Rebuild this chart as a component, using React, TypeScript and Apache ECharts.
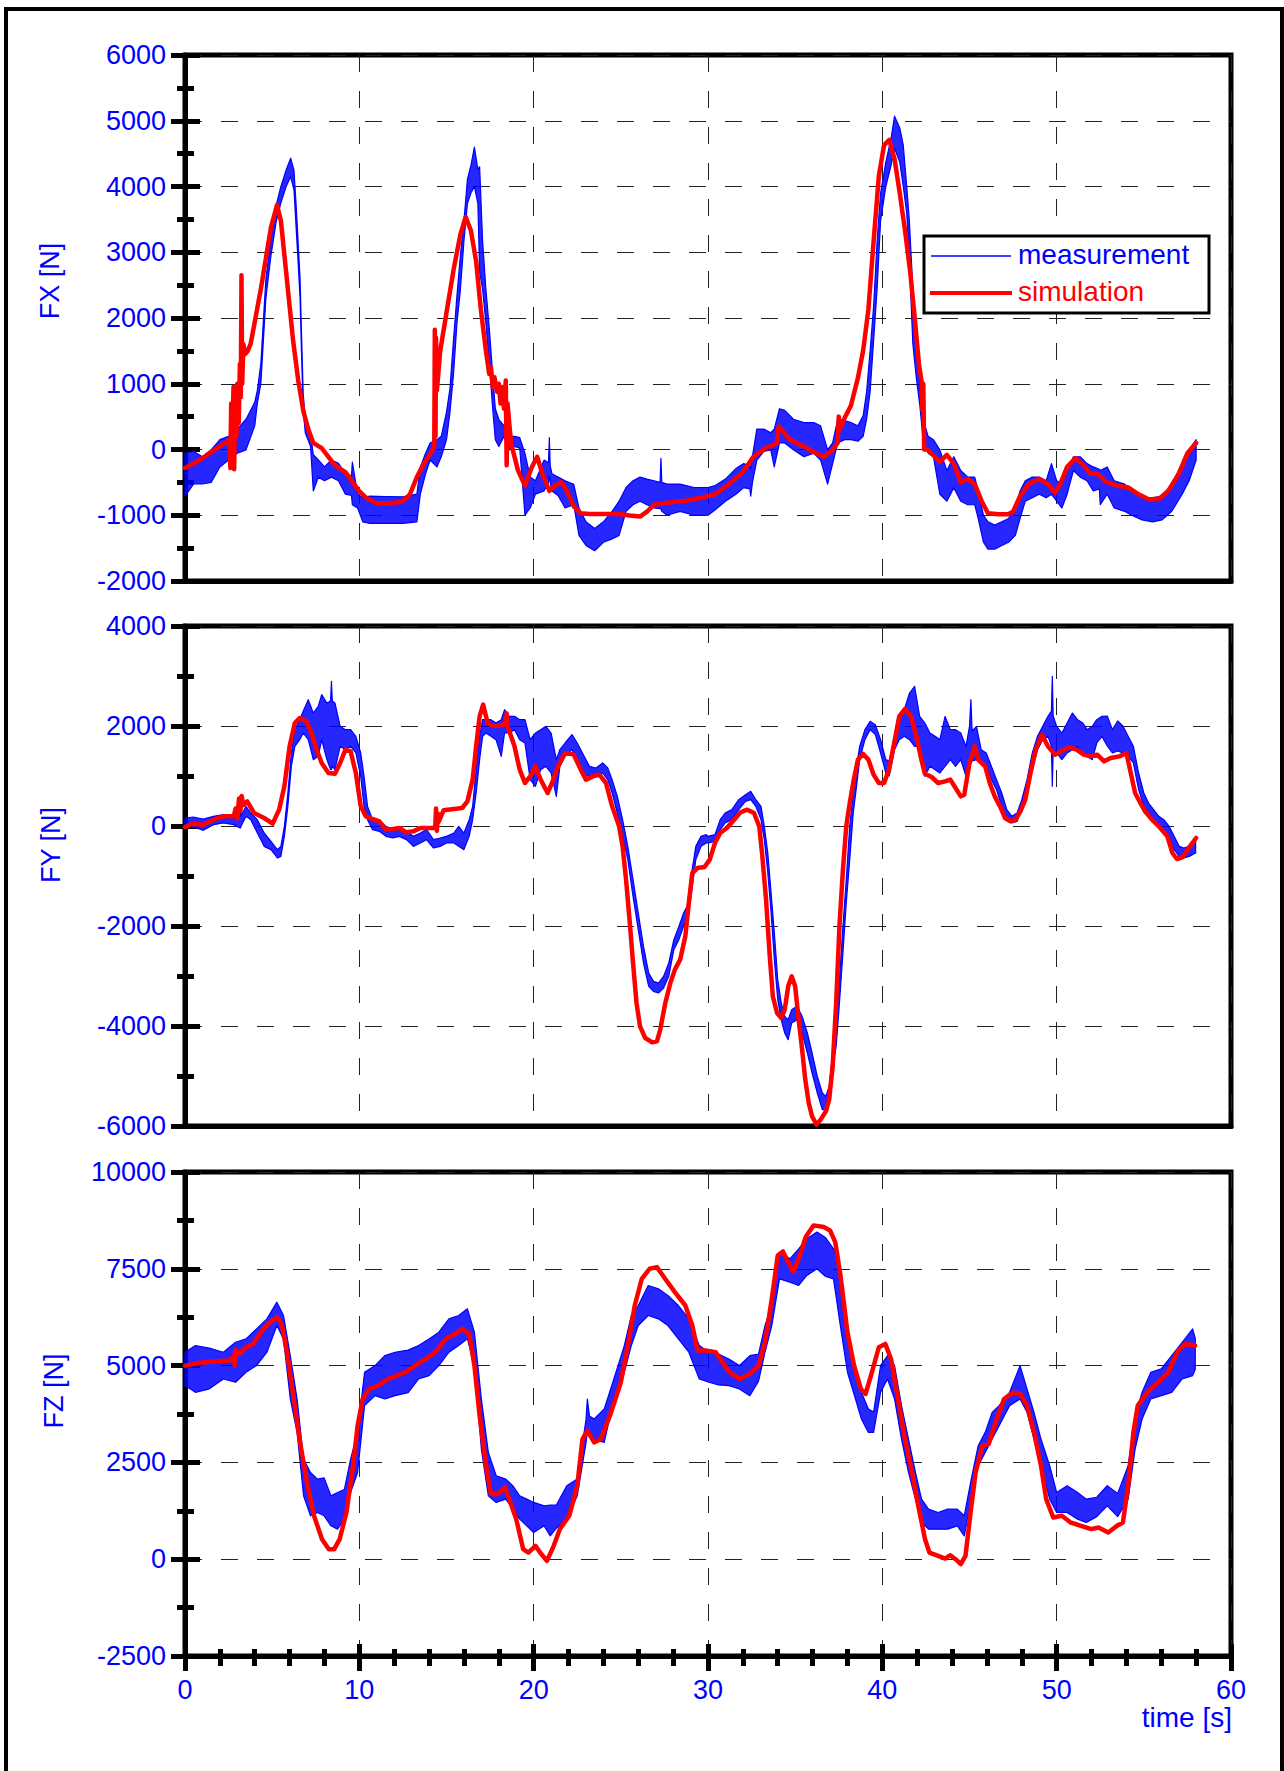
import React, { useEffect, useRef } from "react";
import * as echarts from "echarts";

// ---------- data ----------
const timeRange = [0, 60, 10]; // min, max, major step [s]
const fxAxis = [-2000, 6000, 1000];
const fyAxis = [-6000, 4000, 2000];
const fzAxis = [-2500, 10000, 2500];

// simulation: [t, value]
const fxSim = [[0,-280],[0.85,-160],[1.6,-20],[2.4,120],[2.55,150],[2.6,-280],[2.65,700],[2.72,100],[2.78,950],[2.82,-300],[2.88,900],[2.95,200],[3.0,1000],[3.08,400],[3.15,1300],[3.2,800],[3.24,2650],[3.28,1000],[3.35,1600],[3.45,1450],[3.6,1500],[3.77,1610],[4.35,2440],[4.93,3380],[5.28,3720],[5.5,3480],[5.9,2440],[6.2,1660],[6.5,1040],[6.8,570],[7.07,310],[7.36,100],[7.84,20],[8.6,-240],[9.2,-345],[9.98,-630],[10.4,-735],[10.95,-812],[11.7,-823],[12.5,-786],[12.9,-682],[13.3,-420],[13.7,-214],[14.16,-30],[14.3,60],[14.33,1820],[14.37,200],[14.4,1700],[14.45,900],[14.64,1500],[15.03,2130],[15.42,2755],[15.8,3275],[16.1,3536],[16.4,3330],[16.7,2860],[16.97,2130],[17.26,1505],[17.45,1150],[17.55,1250],[17.65,950],[17.75,1100],[17.9,880],[18.0,1000],[18.1,700],[18.2,950],[18.3,620],[18.4,1050],[18.45,-240],[18.5,700],[18.7,100],[19.1,-318],[19.5,-550],[19.9,-265],[20.2,-110],[20.5,-370],[20.9,-630],[21.2,-550],[21.6,-500],[21.9,-630],[22.3,-865],[22.7,-970],[23.2,-980],[24.9,-980],[25.5,-1005],[26.1,-1020],[26.5,-945],[26.9,-840],[27.6,-812],[28.8,-776],[29.6,-735],[30.4,-680],[31.2,-526],[32.0,-344],[32.6,-110],[33.3,20],[33.96,100],[34.05,350],[34.7,150],[35.5,47],[36.2,-57],[36.66,-110],[37.15,-5],[37.44,100],[37.5,500],[37.55,300],[37.8,460],[38.2,670],[38.6,1090],[38.9,1505],[39.2,2130],[39.5,3170],[39.8,4160],[40.1,4630],[40.4,4710],[40.7,4420],[41.0,3900],[41.3,3330],[41.6,2700],[41.85,2025],[42.1,1300],[42.25,1040],[42.3,600],[42.35,1000],[42.4,0],[42.6,0],[43.1,-135],[43.3,-190],[43.7,-83],[44.1,-214],[44.5,-500],[44.9,-450],[45.3,-526],[45.7,-786],[46.06,-970],[46.65,-985],[47.24,-985],[47.5,-943],[47.9,-708],[48.4,-526],[49.0,-448],[49.5,-526],[49.9,-656],[50.2,-526],[50.6,-265],[51.07,-135],[51.45,-214],[51.94,-370],[52.3,-370],[52.9,-500],[53.5,-552],[54.1,-578],[54.7,-682],[55.3,-760],[55.9,-745],[56.4,-630],[57.0,-370],[57.5,-57],[58.0,100]];

const fySim = [[0,-20],[0.47,47],[1.05,27],[1.63,127],[2.2,193],[2.8,193],[2.9,350],[3.0,150],[3.1,550],[3.18,300],[3.25,600],[3.35,420],[3.57,493],[3.96,260],[4.54,160],[5.03,47],[5.4,327],[5.7,793],[6.0,1593],[6.3,2060],[6.58,2160],[6.97,2093],[7.26,1860],[7.55,1527],[7.84,1260],[8.23,1060],[8.6,1047],[8.9,1260],[9.2,1527],[9.5,1493],[9.8,1060],[10.08,393],[10.37,193],[10.76,140],[11.15,93],[11.53,-73],[11.92,-60],[12.3,-40],[12.7,-127],[13.1,-107],[13.5,-40],[14.06,-40],[14.35,-40],[14.4,350],[14.45,-100],[14.5,250],[14.55,80],[14.83,313],[15.42,340],[15.9,360],[16.2,493],[16.5,927],[16.7,1593],[16.9,2193],[17.1,2427],[17.36,2060],[17.65,2007],[18.04,2007],[18.4,2050],[18.45,2250],[18.5,2000],[18.9,1593],[19.2,1127],[19.5,860],[19.8,993],[20.1,1193],[20.4,927],[20.8,660],[21.05,860],[21.4,1193],[21.8,1460],[22.3,1427],[22.7,1127],[23.0,927],[23.4,993],[23.77,1027],[24.15,860],[24.5,393],[24.9,-7],[25.1,-407],[25.3,-1073],[25.5,-1873],[25.7,-2740],[25.9,-3540],[26.1,-4007],[26.4,-4240],[26.8,-4327],[27.07,-4307],[27.26,-4073],[27.55,-3540],[27.84,-3140],[28.1,-2873],[28.4,-2673],[28.7,-2207],[28.9,-1540],[29.1,-940],[29.4,-840],[29.8,-820],[30.1,-673],[30.4,-340],[30.7,-140],[31.08,-40],[31.5,127],[31.86,273],[32.25,327],[32.64,260],[32.94,-7],[33.1,-540],[33.33,-1473],[33.53,-2540],[33.72,-3407],[33.96,-3740],[34.2,-3840],[34.4,-3673],[34.6,-3207],[34.8,-3007],[35.0,-3207],[35.2,-3873],[35.4,-4473],[35.58,-5073],[35.78,-5540],[35.97,-5807],[36.23,-5973],[36.46,-5873],[36.76,-5707],[36.95,-5473],[37.15,-4807],[37.35,-3540],[37.54,-2007],[37.74,-873],[37.93,-7],[38.13,460],[38.36,927],[38.6,1327],[38.9,1440],[39.2,1327],[39.5,1027],[39.8,860],[40.1,860],[40.38,1127],[40.68,1660],[40.97,2193],[41.3,2340],[41.65,2193],[41.95,1793],[42.24,1327],[42.44,1047],[42.83,980],[43.2,860],[43.6,893],[43.9,927],[44.2,760],[44.5,593],[44.7,627],[45.0,1260],[45.3,1593],[45.5,1327],[45.9,1193],[46.16,860],[46.45,593],[46.75,393],[47.04,160],[47.34,93],[47.63,127],[47.92,293],[48.2,527],[48.5,1060],[48.8,1527],[49.16,1827],[49.5,1593],[49.9,1427],[50.27,1493],[50.66,1573],[51.15,1527],[51.55,1427],[51.94,1393],[52.33,1427],[52.72,1293],[53.1,1360],[53.6,1393],[54.0,1460],[54.25,1060],[54.5,660],[54.8,460],[55.07,293],[55.47,127],[55.95,-40],[56.35,-207],[56.64,-540],[56.9,-660],[57.23,-620],[57.5,-473],[58.0,-240]];

const fzSim = [[0,5000],[0.8,5069],[1.6,5103],[2.56,5129],[2.8,5250],[2.85,5000],[2.9,5400],[3.14,5302],[3.52,5474],[3.9,5560],[4.5,5948],[4.88,6121],[5.27,6250],[5.54,6078],[5.85,5345],[6.24,4138],[6.6,3017],[7.0,1983],[7.4,1121],[7.86,517],[8.25,259],[8.56,259],[8.87,517],[9.26,1207],[9.64,2414],[9.9,3448],[10.19,4138],[10.57,4397],[11.08,4483],[11.66,4655],[12.05,4724],[12.63,4828],[13.2,5000],[13.8,5172],[14.37,5345],[14.95,5690],[15.5,5819],[15.9,5948],[16.3,5819],[16.6,5000],[16.9,3707],[17.27,2414],[17.55,1681],[17.93,1681],[18.36,1853],[18.6,1552],[19.0,1034],[19.4,259],[19.7,172],[20.1,345],[20.37,172],[20.76,-43],[21.15,345],[21.5,776],[22.04,1121],[22.5,1897],[22.8,3103],[23.08,3319],[23.47,3017],[23.86,3103],[24.44,3793],[25.0,4569],[25.4,5517],[25.8,6552],[26.2,7241],[26.65,7500],[27.07,7543],[27.54,7241],[28.1,6897],[28.7,6552],[29.1,6035],[29.4,5388],[29.86,5388],[30.44,5345],[30.83,5086],[31.2,4845],[31.8,4655],[32.4,4784],[32.9,5000],[33.27,5603],[33.66,6724],[34.0,7845],[34.3,7948],[34.6,7672],[34.9,7414],[35.2,7759],[35.6,8319],[36.06,8621],[36.64,8578],[37.0,8491],[37.3,8190],[37.6,7328],[38.0,5862],[38.38,5000],[38.77,4397],[39.04,4267],[39.4,4828],[39.8,5474],[40.17,5560],[40.5,5172],[40.9,4138],[41.3,3103],[41.7,2241],[42.06,1379],[42.45,517],[42.7,172],[43.2,86],[43.6,17],[43.9,103],[44.2,0],[44.5,-129],[44.77,86],[45.04,1121],[45.35,2241],[45.74,2931],[46.1,2974],[46.5,3534],[46.98,4138],[47.5,4310],[47.9,4267],[48.3,3966],[48.7,3276],[49.1,2414],[49.4,1552],[49.8,1078],[50.3,1121],[50.8,948],[51.4,862],[51.98,776],[52.4,819],[52.96,690],[53.46,862],[53.8,948],[54.1,1897],[54.4,3276],[54.65,3966],[55.2,4310],[55.8,4569],[56.4,4828],[56.97,5388],[57.4,5560],[57.94,5517]];

// measurement: [t, low, high] envelope of the noisy signal
const fxMeas = [[0,-710,-57],[0.5,-525,-30],[1,-525,-110],[1.5,-500,-5],[2,-265,150],[2.5,-160,200],[3,-57,310],[3.5,-5,460],[4,360,720],[4.15,700,900],[4.35,1000,1300],[4.64,2300,2600],[4.93,2950,3200],[5.22,3450,3700],[5.5,3750,4000],[5.8,4000,4250],[6.06,4150,4430],[6.25,3950,4250],[6.39,3300,3650],[6.5,2800,3100],[6.6,2300,2600],[6.68,1500,1800],[6.78,600,850],[6.9,250,450],[7.2,50,250],[7.36,-630,-80],[7.65,-420,-160],[8.0,-475,-265],[8.4,-420,-160],[8.8,-475,-210],[9.2,-680,-370],[9.55,-700,-400],[9.6,-840,-190],[9.9,-890,-680],[10.2,-1100,-735],[10.6,-1125,-710],[11.5,-1125,-715],[12.5,-1125,-720],[13.3,-1100,-680],[13.5,-680,-265],[13.8,-370,-57],[14.06,-160,100],[14.45,-265,150],[14.7,-110,200],[15.0,150,570],[15.2,570,930],[15.4,1140,1660],[15.6,1920,2340],[15.8,2440,2960],[16.0,3170,3480],[16.2,3740,4110],[16.4,3900,4320],[16.6,4000,4600],[16.8,3740,4260],[16.9,2700,4300],[17.07,2440,3170],[17.26,1920,2440],[17.46,1300,1820],[17.65,620,1140],[17.8,150,620],[18.0,47,460],[18.3,200,360],[18.6,-5,200],[18.9,47,200],[19.2,20,180],[19.5,-1000,-57],[19.8,-890,-420],[20.1,-680,-475],[20.6,-630,-160],[20.85,-500,-200],[20.9,-400,180],[20.95,-500,-250],[21.05,-630,-370],[21.4,-700,-420],[21.8,-890,-475],[22.3,-840,-530],[22.6,-1307,-890],[23.0,-1460,-1100],[23.5,-1540,-1200],[24.0,-1410,-1100],[24.5,-1360,-940],[24.9,-1307,-786],[25.3,-940,-578],[25.7,-840,-475],[26.1,-786,-420],[26.5,-840,-450],[26.9,-890,-475],[27.25,-900,-500],[27.3,-900,-135],[27.35,-940,-500],[27.65,-1000,-526],[28.4,-940,-526],[29.2,-1000,-578],[30.0,-1000,-578],[30.4,-920,-550],[31.0,-786,-450],[31.6,-680,-290],[32.05,-580,-214],[32.4,-600,-250],[32.45,-710,-300],[32.55,-500,-100],[32.8,-160,310],[33.2,-30,310],[33.6,-5,255],[33.8,-265,310],[34.1,100,620],[34.4,100,595],[34.9,-5,460],[35.5,-110,410],[36.07,-57,410],[36.46,-160,360],[36.86,-526,-5],[37.15,-214,100],[37.44,100,460],[37.84,150,440],[38.2,150,410],[38.6,125,360],[38.9,200,515],[39.1,460,880],[39.3,880,1500],[39.5,1660,2180],[39.7,2440,3170],[39.9,3480,3900],[40.2,4000,4370],[40.5,4320,4730],[40.7,4580,5070],[41.0,4370,4890],[41.2,4000,4630],[41.4,3590,4000],[41.55,2860,3480],[41.75,1610,2440],[41.95,1090,1770],[42.15,670,985],[42.34,150,460],[42.63,-57,200],[42.93,-110,150],[43.3,-680,-5],[43.7,-786,-320],[44.1,-580,-110],[44.5,-786,-320],[44.9,-840,-420],[45.3,-840,-420],[45.5,-1050,-630],[45.8,-1410,-1000],[46.06,-1515,-1100],[46.45,-1515,-1150],[46.85,-1460,-1100],[47.24,-1410,-1050],[47.63,-1307,-890],[47.9,-1050,-630],[48.2,-786,-475],[48.6,-735,-420],[49.0,-680,-420],[49.4,-735,-475],[49.7,-680,-214],[50.0,-786,-475],[50.3,-890,-526],[50.6,-680,-320],[50.96,-320,-110],[51.35,-420,-110],[51.74,-475,-214],[52.1,-630,-265],[52.45,-600,-300],[52.5,-840,-320],[52.9,-680,-265],[53.3,-890,-475],[53.9,-940,-526],[54.3,-1000,-630],[54.9,-1070,-735],[55.5,-1100,-735],[56.05,-1070,-710],[56.6,-940,-526],[57.2,-680,-214],[57.6,-475,-5],[58.0,-160,150]];

const fyMeas = [[0,-40,160],[0.47,-7,180],[1.05,-87,140],[1.63,27,193],[2.2,60,227],[2.8,27,227],[3.15,-40,193],[3.18,-40,393],[3.22,0,200],[3.5,193,393],[3.77,127,260],[4.15,-140,127],[4.54,-407,-140],[4.93,-473,-307],[5.3,-640,-473],[5.5,-607,-407],[5.7,-207,-7],[5.9,393,660],[6.1,1193,1460],[6.3,1593,1927],[6.58,1727,2127],[6.78,1860,2293],[7.07,1727,2527],[7.36,1327,2260],[7.65,1400,2400],[7.84,1727,2627],[8.14,1327,2460],[8.35,1127,2500],[8.4,1127,2893],[8.45,1200,2500],[8.6,1127,2460],[8.9,1593,1993],[9.2,1527,1927],[9.5,1593,1927],[9.8,1460,1793],[10.08,993,1460],[10.27,393,993],[10.47,127,393],[10.76,-73,127],[11.15,-107,93],[11.53,-207,-7],[11.92,-240,-73],[12.3,-207,-73],[12.7,-273,-107],[13.1,-407,-207],[13.5,-340,-140],[13.86,-273,-73],[14.25,-440,-273],[14.64,-407,-240],[15.0,-340,-207],[15.42,-340,-140],[15.7,-407,-7],[16.0,-473,-140],[16.3,-207,127],[16.5,127,393],[16.7,660,1127],[16.9,1327,1793],[17.07,1793,2127],[17.26,1860,2127],[17.55,1793,2127],[17.84,1727,2060],[18.14,1393,2127],[18.33,1860,2327],[18.6,1860,2193],[18.9,1927,2193],[19.2,1727,2127],[19.5,1660,2127],[19.8,927,1727],[20.1,793,1860],[20.4,1127,1927],[20.7,1193,1993],[21.0,1060,1860],[21.3,593,1327],[21.5,1193,1527],[21.8,1393,1660],[22.2,1527,1827],[22.5,1327,1660],[22.8,1060,1460],[23.2,993,1193],[23.57,993,1160],[23.96,1060,1260],[24.25,927,1160],[24.5,660,927],[24.8,260,593],[25.1,-207,127],[25.4,-673,-407],[25.7,-1407,-1073],[26.0,-2073,-1740],[26.3,-2740,-2407],[26.6,-3207,-2940],[26.87,-3307,-3107],[27.16,-3340,-3140],[27.45,-3240,-3007],[27.75,-3007,-2740],[28.04,-2473,-2273],[28.33,-2273,-2007],[28.6,-2007,-1740],[28.8,-1873,-1607],[29.0,-1473,-1073],[29.3,-673,-407],[29.6,-407,-207],[29.9,-340,-173],[30.0,-340,-207],[30.4,-307,-173],[30.7,-73,127],[30.98,60,260],[31.37,127,327],[31.76,327,527],[32.15,493,627],[32.45,527,693],[32.74,393,527],[33.04,127,393],[33.23,-273,-7],[33.43,-940,-540],[33.62,-1740,-1340],[33.82,-2740,-2207],[34.0,-3473,-3073],[34.2,-3873,-3540],[34.4,-4140,-3807],[34.6,-4273,-3873],[34.8,-3940,-3673],[35.1,-3873,-3607],[35.4,-4140,-3807],[35.7,-4540,-4140],[35.97,-4940,-4540],[36.27,-5340,-5007],[36.56,-5673,-5340],[36.76,-5673,-5407],[36.95,-5473,-5207],[37.15,-4873,-4540],[37.35,-4407,-3873],[37.54,-3540,-3073],[37.74,-2540,-2007],[37.93,-1540,-1073],[38.13,-673,-7],[38.33,260,660],[38.52,793,1193],[38.7,1327,1593],[39.0,1727,1927],[39.3,1927,2093],[39.6,1827,2027],[39.9,1460,1727],[40.2,1060,1327],[40.4,1000,1300],[40.7,1527,1793],[40.97,1727,2127],[41.26,1793,2327],[41.56,1727,2660],[41.85,1593,2793],[42.14,1593,2193],[42.44,993,2060],[42.73,1193,1860],[43.03,1127,1793],[43.3,1060,1727],[43.6,1193,2193],[43.9,1327,1927],[44.2,1193,1927],[44.5,1327,1860],[44.8,993,1593],[45.0,1260,1993],[45.08,1260,2527],[45.15,1300,1900],[45.4,1327,1993],[45.67,1260,1527],[45.96,1193,1460],[46.26,927,1193],[46.55,727,927],[46.85,393,660],[47.14,127,327],[47.43,60,193],[47.73,93,260],[48.0,327,527],[48.3,660,927],[48.6,1127,1460],[48.9,1527,1793],[49.2,1727,1993],[49.5,1793,2193],[49.7,1600,2300],[49.75,793,2993],[49.8,1500,2200],[50.0,1460,1993],[50.3,1327,1860],[50.6,1460,2060],[50.9,1527,2260],[51.2,1593,2127],[51.5,1460,2060],[51.75,1393,1927],[52.04,1327,1993],[52.3,1660,2127],[52.6,1793,2193],[52.9,1600,2200],[53.2,1460,1927],[53.5,1500,2100],[53.8,1460,2000],[54.1,1393,1793],[54.4,1260,1593],[54.7,727,1060],[55.0,393,660],[55.27,260,460],[55.56,127,327],[55.86,-7,193],[56.15,-73,127],[56.45,-273,-7],[56.74,-473,-207],[57.03,-607,-407],[57.3,-640,-440],[57.6,-607,-407],[57.97,-540,-307]];

const fzMeas = [[0,4483,5345],[0.6,4310,5517],[1.4,4400,5450],[2.2,4655,5345],[2.9,4569,5603],[3.5,4828,5690],[4.1,5000,5948],[4.7,5345,6207],[5.27,6035,6638],[5.65,5690,6293],[6.04,4138,5259],[6.43,3276,4138],[6.8,1638,2586],[7.2,1121,2241],[7.6,1207,2069],[7.98,1121,2100],[8.37,862,1638],[8.75,776,1724],[9.14,1034,1800],[9.5,1724,2586],[9.9,2241,3276],[10.3,3966,4828],[10.9,4224,5000],[11.46,4138,5259],[12.05,4224,5345],[12.8,4300,5400],[13.4,4655,5517],[14.0,4741,5690],[14.56,5000,5862],[15.14,5345,6207],[15.7,5517,6293],[16.2,5690,6466],[16.6,5000,5862],[17.0,2845,4138],[17.4,1638,2759],[17.85,1466,2155],[18.4,1552,2069],[18.8,1300,1900],[19.2,1034,1638],[19.6,862,1552],[20.0,690,1466],[20.6,862,1379],[20.95,600,1400],[21.3,800,1400],[21.9,1034,1897],[22.5,1638,2069],[23.0,3000,3600],[23.08,3276,4138],[23.2,3200,3700],[23.47,3103,3621],[24.05,3017,3879],[24.6,4138,4655],[25.2,4828,5517],[25.6,5517,6293],[26.0,6035,6552],[26.57,6293,7069],[27.15,6207,6983],[27.7,6035,6810],[28.3,5690,6552],[28.9,5345,6207],[29.5,4655,5517],[30.05,4569,5345],[30.6,4500,5300],[31.2,4483,5172],[31.8,4397,5000],[32.4,4224,5259],[32.9,4600,5300],[33.27,5345,6035],[33.66,6035,6552],[34.1,7241,7931],[34.7,7155,7759],[35.2,7069,8017],[35.67,7328,8276],[36.25,7500,8448],[36.75,7300,8300],[37.2,7241,8017],[37.6,6000,7500],[38.0,4828,5862],[38.4,4224,4828],[38.8,3621,4310],[39.2,3276,3879],[39.5,3276,3800],[39.9,4310,5000],[40.3,4655,5259],[40.7,4138,5000],[41.1,3103,3966],[41.5,2241,3103],[41.9,1552,2241],[42.25,948,1552],[42.65,776,1293],[43.2,776,1207],[43.75,776,1293],[44.3,862,1293],[44.7,603,1121],[45.1,1552,2069],[45.5,2414,2931],[45.9,2759,3276],[46.3,3103,3793],[46.7,3448,3966],[47.3,3966,4310],[47.9,4138,5000],[48.3,3793,4397],[48.7,3103,3793],[49.1,2414,3103],[49.6,1552,2414],[50.0,1207,1724],[50.6,1207,1897],[51.2,1034,1724],[51.7,948,1552],[52.3,1100,1600],[52.9,1379,1897],[53.5,1100,1700],[54.1,1552,2414],[54.5,2845,3707],[54.9,3621,4310],[55.4,4138,4828],[56.0,4224,4914],[56.6,4310,5259],[57.2,4655,5603],[57.8,4741,5948],[57.95,4900,5700]];

const axisNames = ["FX [N]", "FY [N]", "FZ [N]"];
const legendNames = ["measurement", "simulation"];
const timeName = "time [s]";

// ---------- styling ----------
const BLUE = "#0000ff";
const RED = "#ff0000";
const FONT = '"Liberation Sans", Arial, Helvetica, sans-serif';
const TICK = { color: "#000", width: 5 };
const GRIDLINE = { color: "#222", width: 1, type: [17, 19] as any };

const grids = [
  { left: 185, top: 55, width: 1046, height: 526 },
  { left: 185, top: 626, width: 1046, height: 500 },
  { left: 185, top: 1172, width: 1046, height: 484 },
];
const yRanges = [fxAxis, fyAxis, fzAxis];
const nameCenters = [[50, 281], [51, 845], [54, 1391]];

function fmt(v: number) {
  return String(v);
}

function buildOption() {
  const xAxis: any[] = [];
  const yAxis: any[] = [];
  const series: any[] = [];

  grids.forEach((g, i) => {
    const isLast = i === 2;
    xAxis.push({
      type: "value", gridIndex: i, position: "bottom",
      min: timeRange[0], max: timeRange[1], interval: timeRange[2],
      axisLine: { show: true, onZero: false, lineStyle: TICK },
      axisTick: { show: isLast, inside: false, length: 15, lineStyle: TICK },
      minorTick: { show: isLast, splitNumber: 5, length: 10, lineStyle: TICK },
      axisLabel: { show: isLast, color: BLUE, fontSize: 27, fontFamily: FONT, margin: 20, formatter: fmt, showMinLabel: true, showMaxLabel: true },
      splitLine: { show: true, lineStyle: GRIDLINE },
      minorSplitLine: { show: false },
    });
  });
  // inner ticks of the bottom time axis
  xAxis.push({
    type: "value", gridIndex: 2, position: "bottom",
    min: timeRange[0], max: timeRange[1], interval: timeRange[2],
    axisLine: { show: false, onZero: false },
    axisTick: { show: true, inside: true, length: 12, lineStyle: TICK },
    minorTick: { show: true, splitNumber: 5, length: 7, lineStyle: TICK },
    axisLabel: { show: false },
    splitLine: { show: false },
  });

  grids.forEach((g, i) => {
    const r = yRanges[i];
    yAxis.push({
      type: "value", gridIndex: i, position: "left",
      min: r[0], max: r[1], interval: r[2],
      axisLine: { show: true, onZero: false, lineStyle: TICK },
      axisTick: { show: true, inside: false, length: 14, lineStyle: TICK },
      minorTick: { show: true, splitNumber: 2, length: 8, lineStyle: TICK },
      axisLabel: { color: BLUE, fontSize: 27, fontFamily: FONT, margin: 19, formatter: fmt, showMinLabel: true, showMaxLabel: true },
      splitLine: { show: true, lineStyle: GRIDLINE },
      minorSplitLine: { show: false },
    });
    yAxis.push({
      type: "value", gridIndex: i, position: "left",
      min: r[0], max: r[1], interval: r[2],
      axisLine: { show: false, onZero: false },
      axisTick: { show: true, inside: true, length: 15, lineStyle: TICK },
      minorTick: { show: true, splitNumber: 2, length: 9, lineStyle: TICK },
      axisLabel: { show: false },
      splitLine: { show: false },
    });
  });

  const meas = [fxMeas, fyMeas, fzMeas];
  const sims = [fxSim, fySim, fzSim];
  grids.forEach((g, i) => {
    const band = meas[i];
    series.push({
      type: "custom", name: legendNames[0], xAxisIndex: i, yAxisIndex: i * 2,
      data: band, encode: { x: 0, y: [1, 2] }, silent: true, z: 2,
      renderItem: (params: any, api: any) => {
        // one closed outline: upper envelope forward, lower envelope back
        if (params.dataIndex !== 0) return null;
        const upper = band.map((d) => api.coord([d[0], d[2]]));
        const lower = band.map((d) => api.coord([d[0], d[1]])).reverse();
        return {
          type: "polygon", shape: { points: upper.concat(lower) },
          style: { fill: "rgba(0,0,255,0.85)", stroke: BLUE, lineWidth: 1.2, lineJoin: "round" },
        };
      },
    });
    series.push({
      type: "line", name: legendNames[1], xAxisIndex: i, yAxisIndex: i * 2,
      data: sims[i], showSymbol: false, symbol: "none", silent: true, z: 3,
      lineStyle: { color: RED, width: 4.5, join: "round", cap: "round" },
    });
  });

  const graphic: any[] = [
    { type: "rect", z: 100, silent: true, shape: { x: 6, y: 9, width: 1276, height: 1800 }, style: { fill: "transparent", stroke: "#000", lineWidth: 4 } },
    ...axisNames.map((n, i) => ({
      type: "text", z: 100, silent: true, x: nameCenters[i][0], y: nameCenters[i][1], rotation: Math.PI / 2,
      style: { text: n, fill: BLUE, font: `27px ${FONT}`, align: "center", verticalAlign: "middle" },
    })),
    { type: "text", z: 100, silent: true, x: 1232, y: 1717, style: { text: timeName, fill: BLUE, font: `28px ${FONT}`, align: "right", verticalAlign: "middle" } },
    { type: "rect", z: 100, silent: true, shape: { x: 924, y: 236, width: 285, height: 77 }, style: { fill: "#fff", stroke: "#000", lineWidth: 3 } },
    { type: "line", z: 101, silent: true, shape: { x1: 931, y1: 256, x2: 1011, y2: 256 }, style: { stroke: BLUE, lineWidth: 1.3 } },
    { type: "line", z: 101, silent: true, shape: { x1: 930, y1: 293, x2: 1012, y2: 293 }, style: { stroke: RED, lineWidth: 4 } },
    { type: "text", z: 101, silent: true, x: 1018, y: 254, style: { text: legendNames[0], fill: BLUE, font: `28px ${FONT}`, align: "left", verticalAlign: "middle" } },
    { type: "text", z: 101, silent: true, x: 1018, y: 291, style: { text: legendNames[1], fill: RED, font: `28px ${FONT}`, align: "left", verticalAlign: "middle" } },
  ];

  return {
    animation: false,
    backgroundColor: "#ffffff",
    textStyle: { fontFamily: FONT },
    grid: grids.map((g) => ({ ...g, show: true, borderColor: "#000", borderWidth: 5, backgroundColor: "transparent", containLabel: false, outerBoundsMode: "none" })),
    xAxis, yAxis, series, graphic,
  };
}

export default function App() {
  const ref = useRef<HTMLDivElement>(null);
  useEffect(() => {
    if (!ref.current) return;
    const chart = echarts.init(ref.current, null, { renderer: "svg" });
    chart.setOption(buildOption() as any);
    return () => chart.dispose();
  }, []);
  return (
    <div
      ref={ref}
      style={{ position: "absolute", left: 0, top: 0, width: 1284, height: 1771, background: "#fff" }}
    />
  );
}
